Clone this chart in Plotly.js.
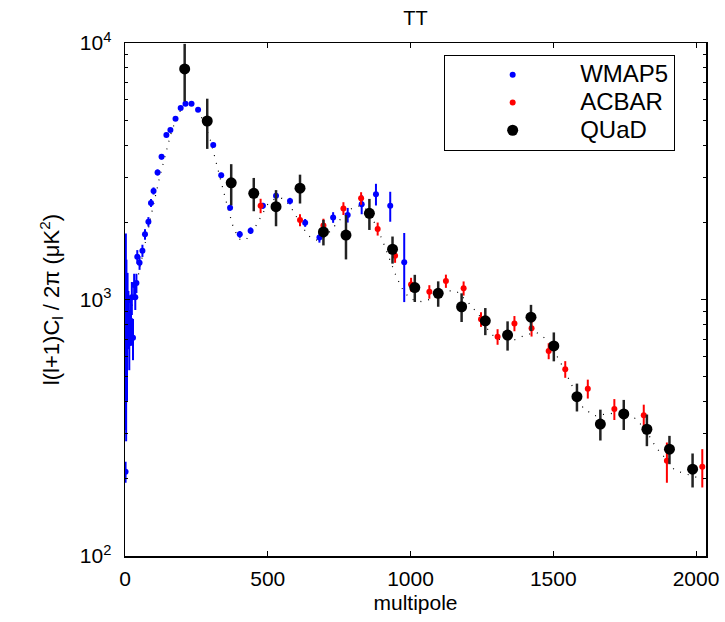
<!DOCTYPE html>
<html>
<head>
<meta charset="utf-8">
<script src="https://cdn.plot.ly/plotly-3.0.1.min.js"></script>
<style>html,body{margin:0;padding:0;background:#fff;}#chart{width:725px;height:622px;}</style>
</head>
<body>
<div id="chart"></div>
<script>
// WMAP5 binned TT spectrum
const wmapL = [2,3,4,5,7,9,12,15,18,21,24,28,32,36,40,43,51,61,70,82,91,100,114,128,145,159,177,195,212,233,256,309,337,368,402,440,483,529,578,631,681,729,780,829,879,929,978];
const wmapV = [213,1060,760,1030,700,990,860,720,830,820,1020,710,1140,1020,1160,1468,1390,1550,1795,2010,2380,2650,3130,3600,4380,4580,5070,5580,5800,5800,5490,4000,3050,2280,1795,1855,2320,2540,2420,1990,1746,2090,2135,2350,2575,2320,1397];
const wmapE = [20,750,480,400,300,280,220,190,170,160,150,130,120,110,100,90,85,85,85,85,85,85,85,85,85,85,85,85,85,85,85,80,70,60,55,55,60,65,70,70,80,100,140,200,250,310,420];

// ACBAR
const acbarL = [475,613,695,765,827,885,946,1002,1066,1124,1186,1247,1305,1364,1424,1484,1542,1621,1714,1817,1898,2022];
const acbarV = [2320,2040,1945,2265,2480,1885,1480,1145,1072,1180,1106,837,716,807,772,630,535,449,374,354,235,223];
const acbarE = [150,110,120,130,140,110,90,70,65,70,70,55,50,55,55,45,40,38,35,35,42,38];

// QUaD
const quadL = [209,288,372,451,529,613,695,774,856,937,1015,1097,1179,1262,1340,1422,1502,1583,1665,1747,1828,1907,1988];
const quadV = [7920,4965,2850,2593,2300,2717,1835,1783,2167,1570,1113,1057,937,826,727,853,659,418,327,358,312,261,218];
const quadE = [2000,1100,520,385,370,350,210,350,300,190,135,120,120,100,95,100,85,52,45,48,44,33,33];

// Best-fit model curve (dotted)
const modelL = [2,10,20,30,40,50,65,80,100,120,140,160,180,200,220,240,260,280,300,320,340,360,380,400,420,440,460,480,500,525,550,575,600,625,650,675,700,725,750,775,800,825,850,875,900,925,950,975,1000,1040,1080,1120,1160,1200,1240,1275,1300,1350,1400,1440,1480,1525,1565,1605,1645,1700,1750,1785,1820,1860,1900,1925,1970,2000,2030];
const modelV = [1000,880,900,1000,1150,1300,1550,1850,2350,2950,3650,4400,5100,5600,5800,5700,5350,4800,4150,3400,2750,2280,1900,1720,1700,1780,1950,2150,2350,2470,2480,2350,2120,1890,1740,1700,1750,1880,2030,2180,2290,2320,2230,1980,1720,1450,1230,1080,1005,980,1010,1080,1080,980,870,750,705,685,725,745,695,570,460,377,352,360,352,345,315,265,235,216,208,203,200];

// Series names and axis ticks
const seriesNames = ['WMAP5','ACBAR','QUaD'];
const xTicks = [0,500,1000,1500,2000];
const yTicks = [100,1000,10000];
const yTickText = ['10<sup>2</sup>','10<sup>3</sup>','10<sup>4</sup>'];
const yMinor = [200,300,400,500,600,700,800,900,2000,3000,4000,5000,6000,7000,8000,9000];

const FONT = 'Liberation Sans, Arial, Helvetica, sans-serif';
const legName = n => '<span style="font-size:24px">' + n + '</span>';

const traces = [
  {x: modelL, y: modelV, type: 'scatter', mode: 'lines', showlegend: false,
   line: {color: '#000', width: 1.2, dash: '1px,7px'}, hoverinfo: 'skip'},
  {x: wmapL, y: wmapV, type: 'scatter', mode: 'markers', name: legName(seriesNames[0]),
   marker: {color: '#0000ff', size: 6},
   error_y: {type: 'data', array: wmapE, color: '#0000ff', thickness: 2, width: 0}},
  {x: acbarL, y: acbarV, type: 'scatter', mode: 'markers', name: legName(seriesNames[1]),
   marker: {color: '#ff0000', size: 6},
   error_y: {type: 'data', array: acbarE, color: '#ff0000', thickness: 2, width: 0}},
  {x: quadL, y: quadV, type: 'scatter', mode: 'markers', name: legName(seriesNames[2]),
   marker: {color: '#000000', size: 11},
   error_y: {type: 'data', array: quadE, color: '#222222', thickness: 2.5, width: 0}}
];

const layout = {
  width: 725, height: 622,
  margin: {l: 125, r: 19, t: 43, b: 66, pad: 0},
  paper_bgcolor: '#fff', plot_bgcolor: '#fff',
  font: {family: FONT, color: '#000', size: 21},
  title: {text: 'TT', font: {family: FONT, size: 20, color: '#000'},
          x: 0.5, xref: 'paper', xanchor: 'center', y: 0.971, yref: 'container', yanchor: 'middle'},
  showlegend: true,
  legend: {x: 0.549, y: 0.977, xanchor: 'left', yanchor: 'top',
           bordercolor: '#000', borderwidth: 1.2, bgcolor: '#fff',
           font: {family: FONT, size: 19, color: '#000'}, itemwidth: 125},
  xaxis: {
    range: [0, 2035], tickvals: xTicks, ticktext: xTicks.map(String),
    ticks: 'inside', ticklen: 5, tickcolor: '#000', tickwidth: 1,
    showline: true, linecolor: '#000', linewidth: 1.5, mirror: 'ticks',
    showgrid: false, zeroline: false, ticklabelstandoff: 3,
    tickfont: {family: FONT, size: 21, color: '#000'},
    title: {text: 'multipole', font: {family: FONT, size: 21, color: '#000'}, standoff: 6}
  },
  yaxis: {
    type: 'log', range: [2, 4], tickvals: yTicks, ticktext: yTickText,
    ticks: 'inside', ticklen: 5, tickcolor: '#000', tickwidth: 1,
    showline: true, linecolor: '#000', linewidth: 1.5, mirror: 'ticks',
    showgrid: false, zeroline: false, ticklabelstandoff: 8,
    tickfont: {family: FONT, size: 21, color: '#000'},
    minor: {tickvals: yMinor, ticks: 'inside', ticklen: 3, tickcolor: '#000', tickwidth: 1, showgrid: false},
    title: {text: 'l(l+1)C<sub>l</sub> / 2π (μK<sup>2</sup>)', font: {family: FONT, size: 22, color: '#000'}, standoff: 14}
  }
};

Plotly.newPlot('chart', traces, layout, {displayModeBar: false, staticPlot: true});
</script>
</body>
</html>
